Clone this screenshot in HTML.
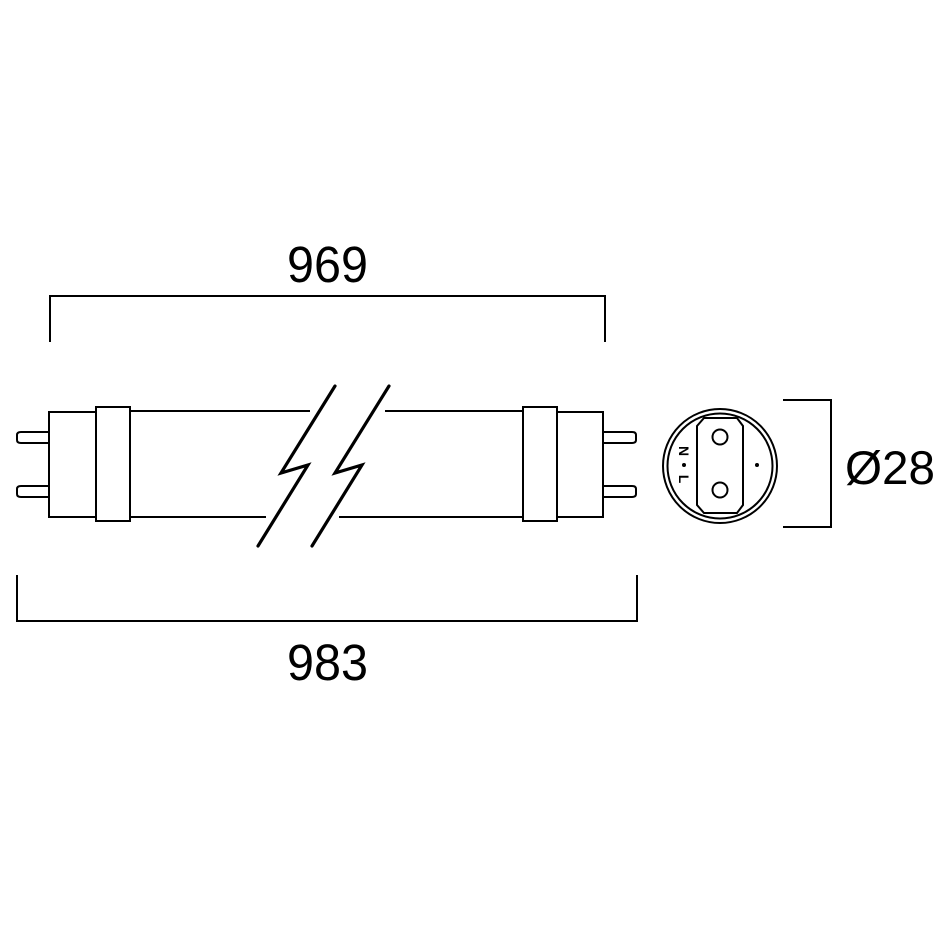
<!DOCTYPE html>
<html><head><style>html,body{margin:0;padding:0;background:#fff}svg{display:block}</style></head>
<body>
<svg width="945" height="945" viewBox="0 0 945 945" xmlns="http://www.w3.org/2000/svg">
<g fill="none" stroke="#000" stroke-width="2">
<polyline points="50,342 50,296 605,296 605,342"/>
<polyline points="17,575 17,621 637,621 637,575"/>
<polyline points="783,400 831,400 831,527 783,527"/>
<path d="M49,432 H21 Q17,432 17,435 V440 Q17,443 21,443 H49"/>
<path d="M49,486 H21 Q17,486 17,489 V494 Q17,497 21,497 H49"/>
<path d="M603,432 H632 Q636,432 636,435 V440 Q636,443 632,443 H603"/>
<path d="M603,486 H632 Q636,486 636,489 V494 Q636,497 632,497 H603"/>
<rect x="49" y="412" width="47" height="105"/>
<rect x="96" y="407" width="34" height="114"/>
<rect x="557" y="412" width="46" height="105"/>
<rect x="523" y="407" width="34" height="114"/>
<line x1="130" y1="411" x2="310" y2="411"/>
<line x1="130" y1="517" x2="266" y2="517"/>
<line x1="385" y1="411" x2="523" y2="411"/>
<line x1="339" y1="517" x2="523" y2="517"/>
</g>
<g fill="none" stroke="#000" stroke-width="3.2" stroke-linecap="round" stroke-linejoin="miter">
<polyline points="335,386 281,473 308,465 258,546"/>
<polyline points="389,386 335,473 362,465 312,546"/>
</g>
<g fill="none" stroke="#000" stroke-width="2">
<circle cx="720" cy="466" r="57"/>
<circle cx="720" cy="466" r="52.5"/>
<polygon points="704,418 737,418 743,426 743,505 737,513 704,513 697,505 697,426"/>
<circle cx="720" cy="437" r="7.5"/>
<circle cx="720" cy="490" r="7.5"/>
</g>
<circle cx="757" cy="465" r="2" fill="#000"/>
<circle cx="684" cy="465" r="2" fill="#000"/>
<g font-family="Liberation Sans, sans-serif" font-weight="bold" font-size="14" fill="#000">
<text transform="translate(679,451) rotate(90)" text-anchor="middle" y="0">N</text>
<text transform="translate(679,479) rotate(90)" text-anchor="middle" y="0">L</text>
</g>
<g font-family="Liberation Sans, sans-serif" fill="#000">
<text x="287" y="282" font-size="51" textLength="81" lengthAdjust="spacingAndGlyphs">969</text>
<text x="287" y="680" font-size="51" textLength="81" lengthAdjust="spacingAndGlyphs">983</text>
<text x="845" y="484" font-size="47" textLength="90" lengthAdjust="spacingAndGlyphs">Ø28</text>
</g>
</svg>
</body></html>
